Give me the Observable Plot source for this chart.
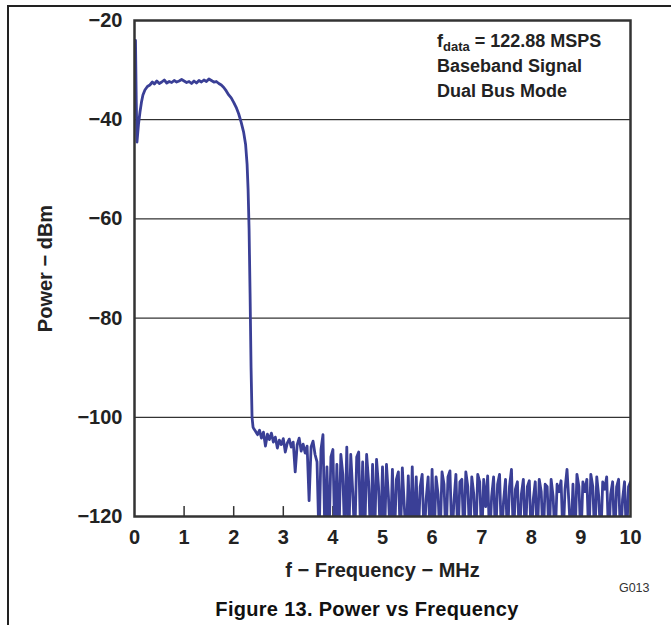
<!DOCTYPE html>
<html>
<head>
<meta charset="utf-8">
<script src="https://cdn.jsdelivr.net/npm/d3@7"></script>
<script src="https://cdn.jsdelivr.net/npm/@observablehq/plot@0.6"></script>
<style>
  html, body { margin: 0; padding: 0; background: #fff; }
  #wrap { position: relative; width: 671px; height: 625px; overflow: hidden; font-family: "Liberation Sans", Arial, sans-serif; }
  #chart { position: absolute; left: 0; top: 0; }
  #caption { position: absolute; left: 67px; width: 600px; top: 595px; text-align: center; font-weight: bold; font-size: 20px; letter-spacing: 0.3px; line-height: 28px; color: #111; }
  #bleft { position: absolute; left: 7px; top: 5px; width: 1.5px; height: 625px; background: #222; }
  #btop { position: absolute; left: 7px; top: 5px; width: 664px; height: 1.5px; background: #222; }
</style>
</head>
<body>
<div id="wrap">
  <div id="bleft"></div>
  <div id="btop"></div>
  <div id="chart"></div>
  <div id="caption">Figure 13. Power vs Frequency</div>
</div>
<script>
// ---- data ----
const xTicks = [0, 1, 2, 3, 4, 5, 6, 7, 8, 9, 10];
const yTicks = [-120, -100, -80, -60, -40, -20];
const gridLines = [-40, -60, -80, -100];
const innerTicks = [1, 2, 3, 4, 5, 6, 7, 8, 9];
const annotation = ["Baseband Signal", "Dual Bus Mode"];

// passband: frequency (MHz) and power (dBm)
const passFreq = [0.02, 0.035, 0.05, 0.08, 0.11, 0.14, 0.17, 0.21, 0.26, 0.31, 0.36, 0.40, 0.45, 0.50, 0.55, 0.60, 0.65, 0.70, 0.75, 0.80, 0.85, 0.90, 0.95, 1.00, 1.05, 1.10, 1.15, 1.20, 1.25, 1.30, 1.35, 1.40, 1.45, 1.50, 1.55, 1.60, 1.65, 1.70, 1.75, 1.80, 1.85, 1.90, 1.95, 2.00, 2.05, 2.10, 2.15, 2.20, 2.24, 2.27, 2.29, 2.31, 2.33, 2.35, 2.37, 2.39];
const passPower = [-24, -36, -44.5, -41, -38.5, -36.5, -35, -34, -33.3, -33, -32.4, -32.8, -32.2, -32.7, -32.4, -32.0, -32.6, -32.3, -32.5, -32.1, -32.4, -32.2, -31.9, -32.2, -32.5, -32.3, -32.7, -32.2, -32.6, -32.1, -32.4, -32.0, -32.3, -31.8, -32.1, -32.4, -32.3, -32.7, -33.0, -33.5, -34.2, -35.0, -35.6, -36.5, -37.5, -38.8, -40.5, -42.5, -45, -49, -54, -62, -75, -90, -100, -102];

// noise floor: sampled every 0.04 MHz starting at 2.40 MHz
const noiseStart = 2.40;
const noiseStep = 0.04;
const noisePower = [
  -102.2, -102.8, -103.5, -102.6, -104.2, -103.0, -105.8, -103.4, -104.5, -103.2,
  -105.0, -104.0, -106.2, -104.6, -105.5, -104.3, -107.0, -105.2, -104.4, -106.0,
  -105.0, -111.0, -105.5, -104.2, -106.8, -105.4, -107.2, -105.8, -116.8, -106.0,
  -104.8, -107.5, -109.0,
  -125, -106.5, -103.5, -125, -110.0, -125, -108.0, -106.5, -125, -109.5,
  -125, -107.5, -111.5, -125, -106.0, -125, -107.5, -115.0, -125, -108.0,
  -107.0, -125, -109.0, -125, -107.5, -113.0, -125, -109.5, -125, -108.5,
  -114.0, -125, -110.0, -125, -109.5, -116.0, -125, -110.5, -125, -112.5,
  -111.0, -125, -110.2, -118.0, -125, -111.8, -125, -110.0, -125, -112.0,
  -125, -114.0, -111.5, -125, -116.5, -112.0, -125, -110.5, -125, -112.0,
  -115.5, -125, -111.0, -113.5, -125, -112.0, -110.8, -125, -117.0, -111.5,
  -125, -113.0, -112.5, -125, -111.0, -114.0, -125, -112.0, -115.5, -125,
  -111.5, -113.0, -125, -112.5, -118.0, -111.8, -125, -116.0, -112.0, -125,
  -113.5, -111.5, -125, -117.0, -112.5, -125, -114.0, -110.5, -125, -114.5,
  -113.0, -125, -115.5, -112.5, -125, -114.0, -112.8, -125, -116.5, -113.0,
  -125, -112.5, -115.0, -125, -113.5, -114.0, -125, -112.5, -116.0, -125,
  -113.5, -115.0, -112.8, -125, -114.5, -110.5, -117.5, -125, -113.5, -125,
  -111.5, -114.0, -125, -113.0, -115.0, -112.5, -125, -111.5, -114.0, -125,
  -112.0, -116.0, -125, -113.0, -114.5, -112.0, -125, -115.5, -113.0, -125,
  -114.0, -112.5, -125, -116.5, -113.0, -125, -114.0, -113.0
];

// ---- build table ----
const series = passFreq.map((f, i) => ({f, p: passPower[i]}))
  .concat(noisePower.map((p, i) => ({f: +(noiseStart + i * noiseStep).toFixed(2), p})));

const fmt = d => d < 0 ? "\u2212" + Math.abs(d) : String(d);
const FONT = "'Liberation Sans', Arial, sans-serif";

const chart = Plot.plot({
  width: 671,
  height: 597,
  marginLeft: 134,
  marginRight: 41,
  marginTop: 20,
  marginBottom: 81,
  style: {fontFamily: FONT, fontSize: "20px", fontWeight: "bold", color: "#222", background: "transparent"},
  x: {domain: [0, 10], ticks: xTicks, tickSize: 0, tickPadding: 13, tickFormat: d => String(d), label: null},
  y: {domain: [-120, -20], ticks: yTicks, tickSize: 0, tickPadding: 12, tickFormat: fmt, label: null},
  marks: [
    Plot.ruleY(gridLines, {stroke: "#000", strokeWidth: 1}),
    Plot.ruleX(innerTicks, {y1: -120, y2: -118, stroke: "#333", strokeWidth: 1.5}),
    Plot.line(series, {x: "f", y: "p", stroke: "#3a3f96", strokeWidth: 2.8, strokeLinejoin: "round", clip: true}),
    Plot.frame({stroke: "#333", strokeWidth: 2.5}),
    Plot.text(["f \u2212 Frequency \u2212 MHz"], {frameAnchor: "bottom", textAnchor: "middle", lineAnchor: "middle", dy: 54, fontSize: 20, fontWeight: "bold", fill: "#222", letterSpacing: 0.5}),
    Plot.text(["Power \u2212 dBm"], {frameAnchor: "left", textAnchor: "middle", lineAnchor: "middle", dx: -89, rotate: -90, fontSize: 20, fontWeight: "bold", fill: "#222", letterSpacing: 0.5}),
    Plot.text(["G013"], {frameAnchor: "bottom-right", textAnchor: "end", lineAnchor: "middle", dx: 19, dy: 71, fontSize: 12.5, fontWeight: "normal", fill: "#333"})
  ]
});
document.getElementById("chart").appendChild(chart);

// annotation block (first line has a subscript)
const svg = d3.select(chart);
const t = svg.append("text")
  .attr("x", 437).attr("y", 47).attr("text-anchor", "start")
  .attr("font-family", FONT).attr("font-size", 18).attr("font-weight", "bold").attr("fill", "#222");
t.append("tspan").text("f");
t.append("tspan").attr("font-size", 13).attr("dy", 4).text("data");
t.append("tspan").attr("dy", -4).text(" = 122.88 MSPS");
annotation.forEach((s, i) => {
  svg.append("text")
    .attr("x", 437).attr("y", 72 + 25 * i).attr("text-anchor", "start")
    .attr("font-family", FONT).attr("font-size", 18).attr("font-weight", "bold").attr("fill", "#222")
    .text(s);
});
</script>
</body>
</html>
